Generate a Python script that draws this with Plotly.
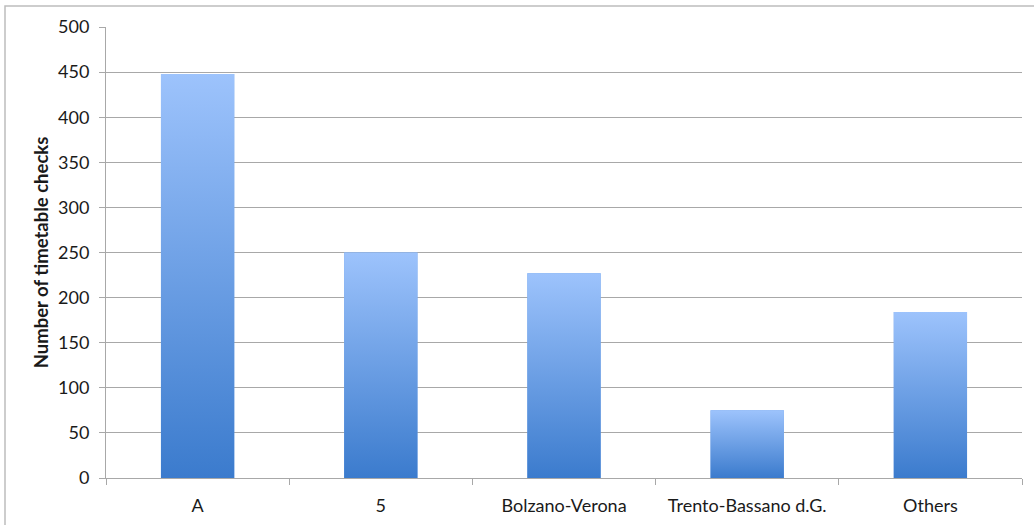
import plotly.graph_objects as go

categories = ["A", "5", "Bolzano-Verona", "Trento-Bassano d.G.", "Others"]
values = [448, 250, 227, 75, 184]
y_ticks = [0, 50, 100, 150, 200, 250, 300, 350, 400, 450, 500]

TOP = "#9DC3FC"
BOTTOM = "#3B7BCD"
MID = "#6A9EE6"
GRID = "#A8A8A8"
FONT = "Lato"

W, H = 1034, 525
L, R, T, B = 106, 12, 27, 47
bar_w = 0.4

idx = list(range(len(categories)))

fig = go.Figure()
fig.add_trace(go.Bar(x=idx, y=values, width=bar_w, marker=dict(color=MID, line=dict(width=0)),
                     showlegend=False, hoverinfo="skip"))

# vertical gradient overlays, one per bar, built from the same data
for i, v in zip(idx, values):
    x0, x1 = i - bar_w / 2, i + bar_w / 2
    fig.add_trace(go.Scatter(
        x=[x0, x1, x1, x0, x0], y=[0, 0, v, v, 0],
        mode="lines", line=dict(width=0), fill="toself",
        fillgradient=dict(type="vertical", colorscale=[[0, BOTTOM], [1, TOP]]),
        showlegend=False, hoverinfo="skip"))

fig.update_layout(
    width=W, height=H,
    margin=dict(l=L, r=R, t=T, b=B, autoexpand=False),
    paper_bgcolor="white", plot_bgcolor="white",
    font=dict(family=FONT, size=18, color="#1a1a1a"),
    showlegend=False,
)

fig.update_xaxes(
    range=[-0.5, len(categories) - 0.5], automargin=False,
    tickmode="array", tickvals=idx, ticktext=categories,
    ticks="", showgrid=False, zeroline=False,
    showline=True, linecolor=GRID, linewidth=1,
    tickfont=dict(size=18, family=FONT),
    ticklabelstandoff=11,
    minor=dict(tickmode="linear", tick0=-0.5, dtick=1, ticks="outside",
               ticklen=6, tickcolor=GRID, showgrid=False),
)

fig.update_yaxes(
    range=[0, 500], tickmode="array", tickvals=y_ticks, automargin=False,
    ticks="outside", ticklen=6, tickcolor=GRID,
    showgrid=True, gridcolor=GRID, gridwidth=1,
    zeroline=False, showline=True, linecolor=GRID, linewidth=1,
    tickfont=dict(size=18, family=FONT),
    ticklabelstandoff=6,
    title=dict(text="<b>Number of timetable checks</b>", font=dict(size=18.5, family=FONT), standoff=4),
)

# outer chart frame (only top and left edges visible in the window)
pw, ph = W - L - R, H - T - B
fig.add_shape(type="rect", xref="paper", yref="paper",
              x0=(5 - L) / pw, x1=1.2, y0=-0.3, y1=(H - B - 6) / ph,
              line=dict(color="#BDBDBD", width=1.5), layer="below")

fig.write_html("out.html")
